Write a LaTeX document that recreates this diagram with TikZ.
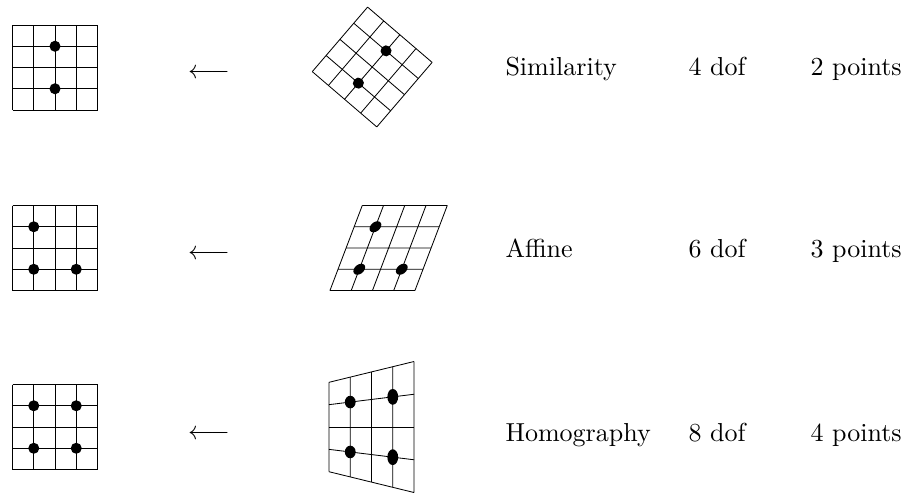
\documentclass[tikz,border=0pt]{standalone}
\usepackage{amsmath,amssymb}
\usepackage{tikz}
\usetikzlibrary{calc}

\begin{document}
\begin{tikzpicture}[x=0.3846pt, y=-0.3846pt,
  gridline/.style={line width=0.32pt},
  rowtext/.style={anchor=base west, inner sep=0pt},
  maparrow/.style={inner sep=0pt}
]
\useasboundingbox (0,0) rectangle (909,493);

% similarity
\begin{scope}[shift={(55,67.5)}, scale=21.25]
  \foreach \k in {-2,...,2}
    \draw[gridline] (\k,-2) -- (\k,2) (-2,\k) -- (2,\k);
  \fill (0,-1) circle[radius=0.26] (0,1) circle[radius=0.26];
\end{scope}
\begin{scope}[shift={(372.2,67)}, rotate=-40.6, scale=21.25]
  \foreach \k in {-2,...,2}
    \draw[gridline] (\k,-2) -- (\k,2) (-2,\k) -- (2,\k);
  \fill (0,-1) circle[radius=0.26] (0,1) circle[radius=0.26];
\end{scope}

% affine
\begin{scope}[shift={(55,248)}, scale=21.25]
  \foreach \k in {-2,...,2}
    \draw[gridline] (\k,-2) -- (\k,2) (-2,\k) -- (2,\k);
  \fill (-1,-1) circle[radius=0.26] (-1,1) circle[radius=0.26]
        (1,1) circle[radius=0.26];
\end{scope}
\begin{scope}[shift={(388.6,248)}, xslant=0.38, scale=21.25]
  \foreach \k in {-2,...,2}
    \draw[gridline] (\k,-2) -- (\k,2) (-2,\k) -- (2,\k);
  \fill (-1,-1) circle[radius=0.26] (-1,1) circle[radius=0.26]
        (1,1) circle[radius=0.26];
\end{scope}

% homography
\begin{scope}[shift={(55,427)}, scale=21.25]
  \foreach \k in {-2,...,2}
    \draw[gridline] (\k,-2) -- (\k,2) (-2,\k) -- (2,\k);
  \fill (-1,-1) circle[radius=0.26] (1,-1) circle[radius=0.26]
        (-1,1) circle[radius=0.26] (1,1) circle[radius=0.26];
\end{scope}
\coordinate (hTL) at (329,382.3);
\coordinate (hTR) at (414,361.5);
\coordinate (hBL) at (329,471.7);
\coordinate (hBR) at (414,492.5);
\foreach \t in {0,0.25,0.5,0.75,1}
  \draw[gridline] ($(hTL)!\t!(hTR)$) -- ($(hBL)!\t!(hBR)$)
    ($(hTL)!\t!(hBL)$) -- ($(hTR)!\t!(hBR)$);
\fill (350.25,402.05) ellipse[x radius=5.4, y radius=6.3]
      (350.25,451.95) ellipse[x radius=5.4, y radius=6.3]
      (392.75,396.85) ellipse[x radius=5.4, y radius=7.9]
      (392.75,457.15) ellipse[x radius=5.4, y radius=7.9];

% arrows
\node[maparrow] (simarrow) at (209,73.5) {$\longleftarrow$};
\node[maparrow] (affarrow) at (209,254.5) {$\longleftarrow$};
\node[maparrow] (homarrow) at (209,434.5) {$\longleftarrow$};

% labels
\node[rowtext] (simname) at (505,75) {Similarity};
\node[rowtext] (simdof) at (688,75) {4 dof};
\node[rowtext] (simpts) at (810,75) {2 points};
\node[rowtext] (affname) at (505,257) {Affine};
\node[rowtext] (affdof) at (688,257) {6 dof};
\node[rowtext] (affpts) at (810,257) {3 points};
\node[rowtext] (homname) at (505,441) {Homography};
\node[rowtext] (homdof) at (688,441) {8 dof};
\node[rowtext] (hompts) at (810,441) {4 points};
\end{tikzpicture}
\end{document}
